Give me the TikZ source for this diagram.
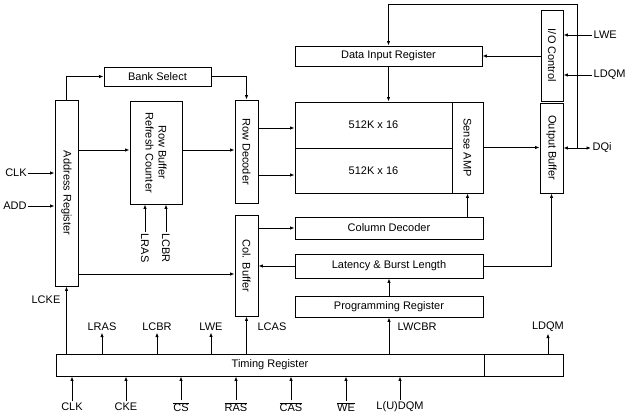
\documentclass[tikz,border=0pt]{standalone}
\usepackage{fontspec}
\setmainfont{Liberation Sans}
\usetikzlibrary{arrows.meta}
\newcommand{\ovl}[1]{$\overline{\mbox{#1}}$}
\begin{document}
\begin{tikzpicture}[x=1pt,y=-1pt,
  every node/.style={font=\fontsize{11}{13}\selectfont},
  box/.style={draw,line width=0.9pt,inner sep=0pt},
  lbl/.style={inner sep=1.5pt},
  rlbl/.style={inner sep=1.5pt,rotate=-90,align=center},
  arr/.style={line width=0.9pt,-{Latex[length=4.5pt,width=3.5pt]}},
  ln/.style={line width=0.9pt}]
\useasboundingbox (0,0) rectangle (641,419);
% boxes
\node[box,minimum width=23pt,minimum height=186pt] (addr) at (66.5,193) {};
\node[rlbl] (addrT) at (addr) {Address Register};
\node[box,minimum width=107pt,minimum height=19pt] (bank) at (157.5,76.5) {Bank Select};
\node[box,minimum width=52pt,minimum height=103pt] (rbuf) at (156,152.5) {};
\node[rlbl] (rbufT) at (rbuf) {Row Buffer\\Refresh Counter};
\node[box,minimum width=23pt,minimum height=103pt] (rdec) at (246.5,151.5) {};
\node[rlbl] (rdecT) at (rdec) {Row Decoder};
\node[box,minimum width=187pt,minimum height=20pt] (dir) at (388.5,56) {Data Input Register};
\node[box,minimum width=157pt,minimum height=46pt] (arr1) at (373.5,125) {512K x 16};
\node[box,minimum width=157pt,minimum height=45pt] (arr2) at (373.5,170.5) {512K x 16};
\node[box,minimum width=31pt,minimum height=91pt] (samp) at (467.5,147.5) {};
\node[rlbl] (sampT) at (samp) {Sense AMP};
\node[box,minimum width=22pt,minimum height=91pt] (ioc) at (552,55.5) {};
\node[rlbl] (iocT) at (ioc) {I/O Control};
\node[box,minimum width=23pt,minimum height=90pt] (obuf) at (551.5,148) {};
\node[rlbl] (obufT) at (obuf) {Output Buffer};
\node[box,minimum width=23pt,minimum height=101pt] (cbuf) at (246.5,265.5) {};
\node[rlbl] (cbufT) at (cbuf) {Col. Buffer};
\node[box,minimum width=188pt,minimum height=22pt] (cdec) at (389,228) {Column Decoder};
\node[box,minimum width=188pt,minimum height=24pt] (lat) at (389,266) {Latency \& Burst Length};
\node[box,minimum width=188pt,minimum height=21pt] (prog) at (389,306.5) {Programming Register};
\node[box,minimum width=428pt,minimum height=22pt] (tim) at (270,365) {Timing Register};
\node[box,minimum width=79pt,minimum height=22pt] (tim2) at (523.5,365) {};
% labels
\node[lbl] (clk) at (16,173) {CLK};
\node[lbl] (add) at (15,206) {ADD};
\node[rlbl] (lrasv) at (145,248) {LRAS};
\node[rlbl] (lcbrv) at (166,248) {LCBR};
\node[lbl] (lwe) [anchor=west] at (592,35) {LWE};
\node[lbl] (ldqm) [anchor=west] at (592,75) {LDQM};
\node[lbl] (dqi) [anchor=west] at (591,148) {DQi};
\node[lbl] (lcke) at (46,300) {LCKE};
\node[lbl] (lras) at (102,327) {LRAS};
\node[lbl] (lcbr) at (157,327) {LCBR};
\node[lbl] (lweb) at (211,327) {LWE};
\node[lbl] (lcas) at (272,327) {LCAS};
\node[lbl] (lwcbr) [anchor=west] at (396,327) {LWCBR};
\node[lbl] (ldqmb) at (548,327) {LDQM};
\node[lbl] (iclk) at (72,407) {CLK};
\node[lbl] (icke) at (126,407) {CKE};
\node[lbl] (ics) at (181,407) {\ovl{CS}};
\node[lbl] (iras) at (236,407) {\ovl{RAS}};
\node[lbl] (icas) at (291,407) {\ovl{CAS}};
\node[lbl] (iwe) at (346,407) {\ovl{WE}};
\node[lbl] (idqm) at (400,407) {L(U)DQM};
\coordinate (j) at (577,148);
\coordinate (top) at (577,4);
% connectors
\draw[arr] (addr.north) |- (bank.west);
\draw[arr] (bank.east) -| (rdec.north);
\draw[arr] (addr.east |- 0,150) -- (rbuf.west |- 0,150);
\draw[arr] (rbuf.east |- 0,150) -- (rdec.west |- 0,150);
\draw[arr] (rdec.east |- 0,128) -- (arr1.west |- 0,128);
\draw[arr] (rdec.east |- 0,175) -- (arr2.west |- 0,175);
\draw[arr] (clk.east) -- (addr.west |- clk.east);
\draw[arr] (add.east) -- (addr.west |- add.east);
\draw[arr] (lrasv.west) -- (rbuf.south -| lrasv.west);
\draw[arr] (lcbrv.west) -- (rbuf.south -| lcbrv.west);
\draw[arr] (addr.east |- 0,274) -- (cbuf.west |- 0,274);
\draw[arr] (cbuf.east |- cdec.west) -- (cdec.west);
\draw[arr] (lat.west) -- (cbuf.east |- lat.west);
\draw[arr] (cdec.north -| samp.south) -- (samp.south);
\draw[arr] (lat.east) -| (obuf.south);
\draw[arr] (prog.north) -- (lat.south);
\draw[arr] (tim.north -| prog.south) -- (prog.south);
\draw[arr] (dir.south) -- (dir.south |- arr1.north);
\draw[arr] (samp.east) -- (obuf.west |- samp.east);
\draw[arr] (j) -- (obuf.east |- j);
\draw[arr] (j) -- (dqi.west);
\draw[arr] (j) -- (top) -| (dir.north);
\draw[arr] (ioc.west |- dir.east) -- (dir.east);
\draw[arr] (lwe.west) -- (ioc.east |- lwe.west);
\draw[arr] (ldqm.west) -- (ioc.east |- ldqm.west);
\draw[arr] (tim.north -| addr.south) -- (addr.south);
\draw[arr] (tim.north -| lras.south) -- (lras.south);
\draw[arr] (tim.north -| lcbr.south) -- (lcbr.south);
\draw[arr] (tim.north -| lweb.south) -- (lweb.south);
\draw[arr] (tim.north -| cbuf.south) -- (cbuf.south);
\draw[arr] (tim2.north -| ldqmb.south) -- (ldqmb.south);
\draw[arr] (iclk.north) -- (tim.south -| iclk.north);
\draw[arr] (icke.north) -- (tim.south -| icke.north);
\draw[arr] (ics.north) -- (tim.south -| ics.north);
\draw[arr] (iras.north) -- (tim.south -| iras.north);
\draw[arr] (icas.north) -- (tim.south -| icas.north);
\draw[arr] (iwe.north) -- (tim.south -| iwe.north);
\draw[arr] (idqm.north) -- (tim.south -| idqm.north);
\end{tikzpicture}
\end{document}
